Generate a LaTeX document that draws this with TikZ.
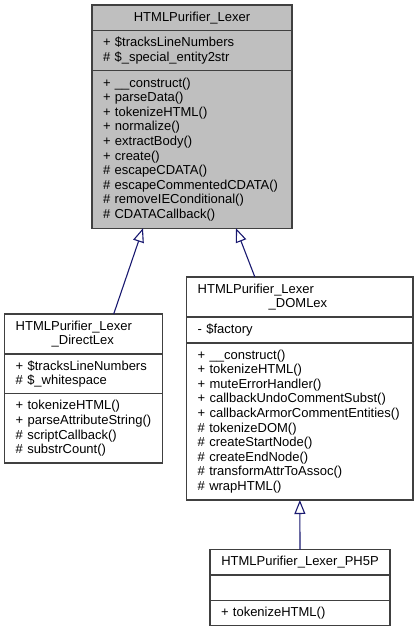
\documentclass[tikz,border=0pt]{standalone}
\usepackage{fontspec}
\setmainfont{Liberation Sans}
\usetikzlibrary{positioning, arrows.meta}

\definecolor{umlline}{HTML}{404040}
\definecolor{umlfill}{HTML}{BFBFBF}
\definecolor{umlarrow}{HTML}{191970}

\begin{document}
\begin{tikzpicture}[
    x=1pt, y=-1pt,
    umlpart/.style   = {rectangle, draw=umlline, line width=1.1pt,
                        inner xsep=11pt, inner ysep=0pt, outer sep=0pt,
                        align=left, fill=white,
                        font=\fontsize{13}{14.6}\selectfont},
    umltitle/.style  = {umlpart, align=center},
    basepart/.style  = {umlpart, fill=umlfill},
    basetitle/.style = {umltitle, fill=umlfill},
    inherit/.style   = {line width=1.1pt, draw=umlarrow,
                        -{Triangle[open, length=14pt, width=11pt]}},
]
\useasboundingbox (0,0) rectangle (419,632);

%% base class
\node[basetitle, text width=178pt, minimum height=25.5pt, anchor=north west]
    (lexer) at (92,5) {HTMLPurifier\_Lexer};
\node[basepart, text width=178pt, minimum height=40.2pt, below=0pt of lexer]
    (lexerattr) {+ \$tracksLineNumbers\\\# \$\_special\_entity2str};
\node[basepart, text width=178pt, minimum height=157.5pt, below=0pt of lexerattr]
    (lexerops) {+ \_\_construct()\\+ parseData()\\+ tokenizeHTML()\\
    + normalize()\\+ extractBody()\\+ create()\\\# escapeCDATA()\\
    \# escapeCommentedCDATA()\\\# removeIEConditional()\\\# CDATACallback()};

%% DirectLex
\node[umlpart, text width=136pt, minimum height=40pt, anchor=north west]
    (direct) at (4.7,314) {HTMLPurifier\_Lexer\\\hspace*{36pt}\_DirectLex};
\node[umlpart, text width=136pt, minimum height=39.7pt, below=0pt of direct]
    (directattr) {+ \$tracksLineNumbers\\\# \$\_whitespace};
\node[umlpart, text width=136pt, minimum height=69.3pt, below=0pt of directattr]
    (directops) {+ tokenizeHTML()\\+ parseAttributeString()\\
    \# scriptCallback()\\\# substrCount()};

%% DOMLex
\node[umlpart, text width=204.3pt, minimum height=40pt, anchor=north west]
    (dom) at (186.7,277) {HTMLPurifier\_Lexer\\\hspace*{71pt}\_DOMLex};
\node[umlpart, text width=204.3pt, minimum height=26pt, below=0pt of dom]
    (domattr) {- \$factory};
\node[umlpart, text width=204.3pt, minimum height=157pt, below=0pt of domattr]
    (domops) {+ \_\_construct()\\+ tokenizeHTML()\\+ muteErrorHandler()\\
    + callbackUndoCommentSubst()\\+ callbackArmorCommentEntities()\\
    \# tokenizeDOM()\\\# createStartNode()\\\# createEndNode()\\
    \# transformAttrToAssoc()\\\# wrapHTML()};

%% PH5P
\node[umltitle, text width=158pt, minimum height=25.5pt, anchor=north west]
    (ph5p) at (210,549.5) {HTMLPurifier\_Lexer\_PH5P};
\node[umlpart, text width=158pt, minimum height=25.3pt, below=0pt of ph5p]
    (ph5pattr) {};
\node[umlpart, text width=158pt, minimum height=25.2pt, below=0pt of ph5pattr]
    (ph5pops) {+ tokenizeHTML()};

%% generalisations
\draw[inherit] ([xshift=30pt]direct.north) -- ([xshift=-49pt]lexerops.south);
\draw[inherit] ([xshift=-45pt]dom.north)   -- ([xshift=44pt]lexerops.south);
\draw[inherit] (ph5p.north) -- (domops.south);

\end{tikzpicture}
\end{document}
